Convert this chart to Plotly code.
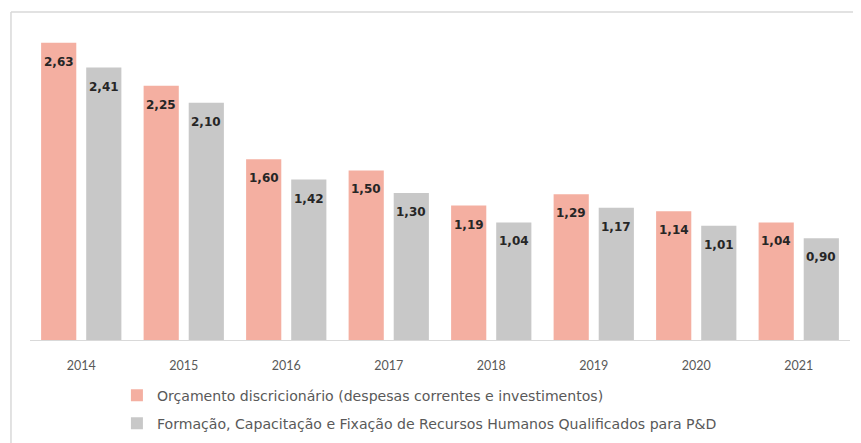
import plotly.graph_objects as go

years = ["2014", "2015", "2016", "2017", "2018", "2019", "2020", "2021"]
orcamento = [2.63, 2.25, 1.60, 1.50, 1.19, 1.29, 1.14, 1.04]
formacao = [2.41, 2.10, 1.42, 1.30, 1.04, 1.17, 1.01, 0.90]
name_orc = "Orçamento discricionário (despesas correntes e investimentos)"
name_form = "Formação, Capacitação e Fixação de Recursos Humanos Qualificados para P&D"

def fmt(v):
    return f"{v:.2f}".replace(".", ",")

FONT = "Lato, Open Sans, sans-serif"
WIDE = "DejaVu Sans, Verdana, sans-serif"
C_ORC = "#F4AFA1"
C_FORM = "#C8C8C8"

fig = go.Figure()
fig.add_trace(go.Bar(
    x=years, y=orcamento, name=name_orc, legend="legend",
    marker=dict(color=C_ORC, line=dict(width=0)),
))
fig.add_trace(go.Bar(
    x=years, y=formacao, name=name_form, legend="legend2",
    marker=dict(color=C_FORM, line=dict(width=0)),
))

# value labels: x is the category index on the category axis
annotations = []
for vals, shift in ((orcamento, -22.5), (formacao, 22.5)):
    for i, v in enumerate(vals):
        annotations.append(dict(
            x=i, y=v, xref="x", yref="y", text=fmt(v), showarrow=False,
            xshift=shift, yshift=-19, yanchor="middle", xanchor="center",
            font=dict(family=WIDE, size=12, color="#262626", weight="bold"),
        ))

leg_common = dict(orientation="v", x=0.106, xanchor="left", yanchor="middle",
                  font=dict(size=14.1, color="#595959", family=WIDE),
                  itemwidth=30, bgcolor="rgba(0,0,0,0)")

fig.update_layout(
    width=853, height=435,
    margin=dict(l=22, r=11, t=4, b=101),
    paper_bgcolor="white", plot_bgcolor="white",
    barmode="group", bargap=0.12, bargroupgap=0.22,
    font=dict(family=FONT, color="#595959"),
    xaxis=dict(type="category", showline=True, linecolor="#D9D9D9", linewidth=1, ticks="",
               tickfont=dict(size=12.5, color="#595959"), showgrid=False,
               ticklabelstandoff=14, automargin=False),
    yaxis=dict(range=[0, 2.902], visible=False, showgrid=False, zeroline=False,
               automargin=False),
    showlegend=True,
    legend=dict(y=-0.1697, **leg_common),
    legend2=dict(y=-0.2545, **leg_common),
    annotations=annotations,
    shapes=[
        dict(type="line", xref="paper", yref="paper", x0=-0.0232, x1=-0.0232, y0=1.0, y1=-0.35,
             line=dict(color="#D9D9D9", width=1.5)),
        dict(type="line", xref="paper", yref="paper", x0=-0.0232, x1=1.03, y0=1.0, y1=1.0,
             line=dict(color="#D9D9D9", width=1.5)),
    ],
)

fig.write_html("out.html")
